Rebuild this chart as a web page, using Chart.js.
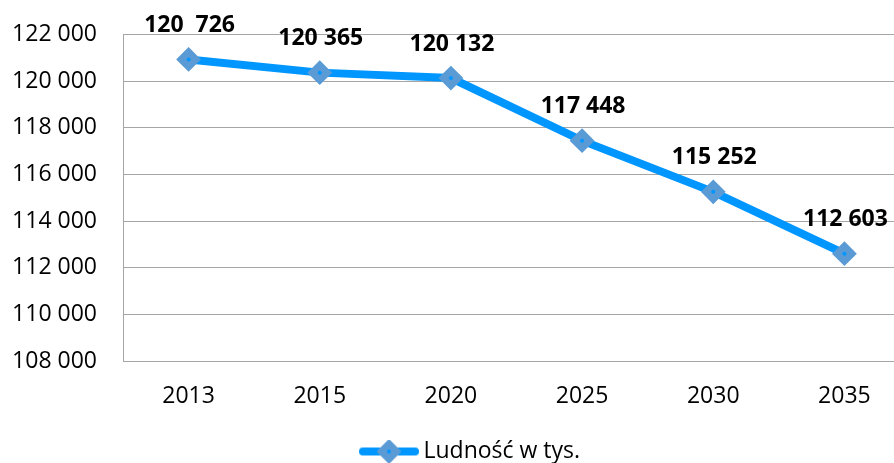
<!DOCTYPE html>
<html lang="pl">
<head>
<meta charset="utf-8">
<script src="https://cdn.jsdelivr.net/npm/chart.js@4.4.1/dist/chart.umd.min.js"></script>
<style>
    html, body { margin: 0; padding: 0; background: #fff; overflow: hidden; }
    #wrap { position: absolute; left: 0; top: 0; width: 930px; height: 473px; }
</style>
</head>
<body>
<div id="wrap"><canvas id="populationChart"></canvas></div>
<script>
// Years on the x axis
const years = ['2013', '2015', '2020', '2025', '2030', '2035'];

// Population in thousands (point positions)
const population = [120930, 120365, 120132, 117448, 115252, 112603];

// Data label texts as printed on the chart
const valueLabels = ['120  726', '120 365', '120 132', '117 448', '115 252', '112 603'];

const seriesName = 'Ludność w tys.';

const FONT = '"Open Sans"';
const FONT_SIZE = 23;
const lineColor = '#0096ff';
const markerColor = '#5b9bd5';
const gridColor = '#a6a6a6';

// Format numbers with a space as thousands separator
function formatTick(value) {
    return String(value).replace(/\B(?=(\d{3})+(?!\d))/g, ' ');
}

// measure legend text so the legend item can be nudged to the right
const measureCtx = document.createElement('canvas').getContext('2d');
measureCtx.font = FONT_SIZE + 'px ' + FONT;
const legendTextWidth = measureCtx.measureText(seriesName).width;
const shift = Math.max(0, Math.round(legendTextWidth / 2 - 60));

// Legend marker: line with a diamond in the middle (transparent space on the left)
function legendMarker() {
    const c = document.createElement('canvas');
    c.width = 60 + 2 * shift;
    c.height = 24;
    const g = c.getContext('2d');
    g.translate(2 * shift, 0);
    g.strokeStyle = lineColor;
    g.lineWidth = 8;
    g.lineCap = 'round';
    g.beginPath();
    g.moveTo(4, 12);
    g.lineTo(56, 12);
    g.stroke();
    g.fillStyle = markerColor;
    g.strokeStyle = markerColor;
    g.lineWidth = 3;
    g.lineJoin = 'round';
    g.beginPath();
    g.moveTo(30, 1.5);
    g.lineTo(40.5, 12);
    g.lineTo(30, 22.5);
    g.lineTo(19.5, 12);
    g.closePath();
    g.fill();
    g.stroke();
    g.fillStyle = lineColor;
    g.beginPath();
    g.arc(30, 12, 2, 0, Math.PI * 2);
    g.fill();
    return c;
}

// Bold value labels above each point
const valueLabelPlugin = {
    id: 'valueLabels',
    afterDatasetsDraw(chart) {
        const meta = chart.getDatasetMeta(1);
        const ctx = chart.ctx;
        ctx.save();
        ctx.font = 'bold ' + FONT_SIZE + 'px ' + FONT;
        ctx.fillStyle = '#000';
        ctx.textAlign = 'center';
        ctx.textBaseline = 'middle';
        meta.data.forEach((pt, i) => {
            ctx.fillText(valueLabels[i], pt.x + 1, pt.y - 34);
        });
        ctx.restore();
    }
};

const ctx = document.getElementById('populationChart').getContext('2d');

new Chart(ctx, {
    type: 'line',
    data: {
        labels: years,
        datasets: [
            {
                // small dot in the centre of each marker
                label: 'dot',
                data: population,
                showLine: false,
                pointStyle: 'circle',
                pointRadius: 2,
                pointBackgroundColor: lineColor,
                pointBorderWidth: 0,
                order: 0
            },
            {
                label: seriesName,
                data: population,
                borderColor: lineColor,
                borderWidth: 8,
                tension: 0,
                pointStyle: 'rectRot',
                pointRadius: 11,
                pointBackgroundColor: markerColor,
                pointBorderColor: markerColor,
                pointBorderWidth: 2,
                order: 1
            }
        ]
    },
    options: {
        responsive: true,
        maintainAspectRatio: false,
        animation: false,
        layout: {
            padding: { top: 34.5, left: 0, right: 20, bottom: 0 }
        },
        scales: {
            x: {
                offset: true,
                grid: { display: false, drawTicks: false },
                border: { color: gridColor, width: 1 },
                ticks: {
                    padding: 22,
                    color: '#000',
                    font: { family: FONT, size: FONT_SIZE }
                },
                afterFit(scale) { scale.height = 55; }
            },
            y: {
                min: 108000,
                max: 122000,
                grid: {
                    color: gridColor,
                    drawTicks: true,
                    tickLength: 26,
                    tickColor: 'rgba(0,0,0,0)'
                },
                border: { color: gridColor, width: 1 },
                ticks: {
                    stepSize: 2000,
                    padding: 0,
                    color: '#000',
                    font: { family: FONT, size: FONT_SIZE },
                    callback: (v) => formatTick(v)
                },
                afterFit(scale) { scale.width = 123; }
            }
        },
        plugins: {
            tooltip: { enabled: false },
            legend: {
                position: 'bottom',
                labels: {
                    color: '#000',
                    font: { family: FONT, size: FONT_SIZE },
                    usePointStyle: true,
                    pointStyleWidth: 46 + 2 * shift,
                    padding: 24,
                    generateLabels: () => [{
                        text: seriesName,
                        pointStyle: legendMarker(),
                        fillStyle: markerColor,
                        strokeStyle: markerColor,
                        lineWidth: 0,
                        datasetIndex: 1
                    }]
                }
            }
        }
    },
    plugins: [valueLabelPlugin]
});
</script>
</body>
</html>
